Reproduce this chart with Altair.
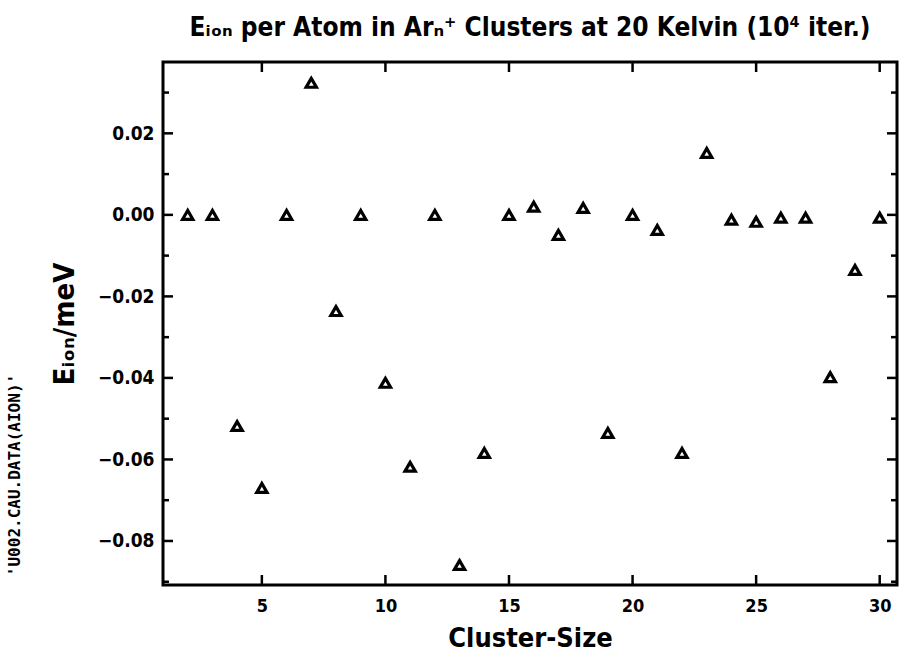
import altair as alt
import pandas as pd

cluster_size = list(range(2, 31))
e_ion = [0.000, 0.000, -0.0518, -0.0670, 0.000, 0.0324, -0.0236, 0.000, -0.0412,
         -0.0618, 0.000, -0.0859, -0.0584, 0.000, 0.0020, -0.0049, 0.0017, -0.0535,
         0.000, -0.0037, -0.0584, 0.0152, -0.0012, -0.0017, -0.0007, -0.0007,
         -0.0398, -0.0135, -0.0007]

x_major = [5, 10, 15, 20, 25, 30]
y_major = [-0.08, -0.06, -0.04, -0.02, 0.00, 0.02]
y_minor = [-0.09, -0.07, -0.05, -0.03, -0.01, 0.01, 0.03]
x_domain = [1.0, 30.7]
y_domain = [-0.0908, 0.0375]

title_text = "Eᵢₒₙ per Atom in Arₙ⁺ Clusters at 20 Kelvin (10⁴ iter.)"
y_title = "Eᵢₒₙ/meV"
x_title = "Cluster-Size"
side_note = "'U002.CAU.DATA(AION)'"

W, H = 734, 523
FONT = "DejaVu Sans Condensed, DejaVu Sans"

df = pd.DataFrame({"size": cluster_size, "e": e_ion})
xs = alt.Scale(domain=x_domain, nice=False, zero=False)
ys = alt.Scale(domain=y_domain, nice=False, zero=False)

x_axis = alt.Axis(values=x_major, format="d", tickSize=0, domain=False, grid=False,
                  labelFont=FONT, labelFontSize=18, labelFontWeight="bold",
                  labelColor="black", labelPadding=12,
                  titleFont=FONT, titleFontSize=27, titleFontWeight="bold",
                  titleColor="black", titlePadding=10)
y_axis = alt.Axis(values=y_major, format=".2f", tickSize=0, domain=False, grid=False,
                  labelFont=FONT, labelFontSize=19, labelFontWeight="bold",
                  labelColor="black", labelPadding=9,
                  titleFont=FONT, titleFontSize=29, titleFontWeight="bold",
                  titleColor="black", titlePadding=18)

points = alt.Chart(df).mark_point(
    shape="triangle-up", filled=False, color="black", strokeWidth=3.2, size=105, opacity=1
).encode(
    x=alt.X("size:Q", scale=xs, title=x_title, axis=x_axis),
    y=alt.Y("e:Q", scale=ys, title=y_title, axis=y_axis),
)

ymaj = pd.DataFrame({"t": y_major})
ymin = pd.DataFrame({"t": y_minor})
xmaj = pd.DataFrame({"t": x_major})

def yticks(data, length):
    base = alt.Chart(data).mark_rule(color="black", strokeWidth=2.5)
    yenc = alt.Y("t:Q", scale=ys, title=y_title, axis=y_axis)
    left = base.encode(y=yenc, x=alt.value(0), x2=alt.value(length))
    right = base.encode(y=yenc, x=alt.value(W), x2=alt.value(W - length))
    return left + right

def xticks(data, length):
    base = alt.Chart(data).mark_rule(color="black", strokeWidth=2.5)
    xenc = alt.X("t:Q", scale=xs, title=x_title, axis=x_axis)
    bottom = base.encode(x=xenc, y=alt.value(H), y2=alt.value(H - length))
    top = base.encode(x=xenc, y=alt.value(0), y2=alt.value(length))
    return bottom + top

note = alt.Chart(pd.DataFrame({"txt": [side_note]})).mark_text(
    angle=270, font="DejaVu Sans Mono", fontSize=16, fontWeight="bold", color="black",
    align="center", baseline="middle"
).encode(text="txt:N", x=alt.value(-148), y=alt.value(413))

chart = alt.layer(
    points, yticks(ymaj, 10), yticks(ymin, 6), xticks(xmaj, 10), note
).properties(
    width=W, height=H,
    title=alt.TitleParams(title_text, font=FONT, fontSize=26, fontWeight="bold",
                          color="black", anchor="middle", offset=20),
    autosize=alt.AutoSizeParams(type="none"),
    padding={"left": 163, "top": 62, "right": 4, "bottom": 72},
).configure(
    background="white",
    view=alt.ViewConfig(stroke="black", strokeWidth=3),
)

chart.save("out.html", embed_options={"renderer": "svg", "actions": False})
